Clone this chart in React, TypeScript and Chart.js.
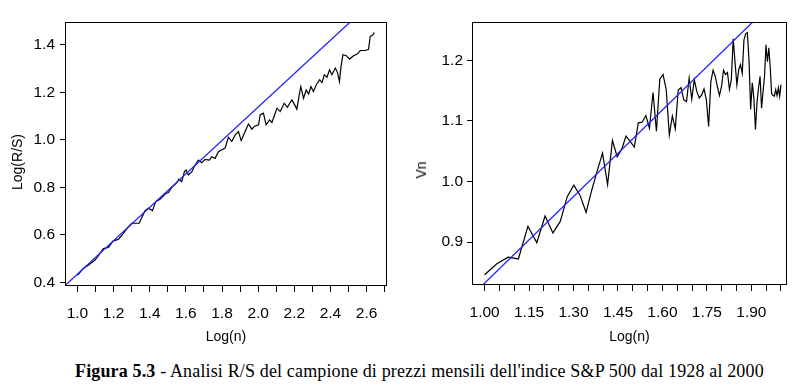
import React, { useEffect, useRef } from 'react';
import { Chart, registerables } from 'chart.js';

Chart.register(...registerables);

// ---------- Left panel: R/S analysis (log-log) ----------
const leftLogN = [
  1.0, 1.032, 1.06, 1.097, 1.115, 1.143, 1.171, 1.198, 1.226, 1.254, 1.281, 1.3, 1.341, 1.374, 1.392,
  1.415, 1.433, 1.457, 1.485, 1.503, 1.522, 1.55, 1.562, 1.577, 1.592, 1.601, 1.614, 1.633, 1.651,
  1.669, 1.688, 1.706, 1.73, 1.743, 1.762, 1.78, 1.799, 1.817, 1.835, 1.854, 1.873, 1.891, 1.906,
  1.928, 1.946, 1.965, 1.978, 2.002, 2.011, 2.029, 2.044, 2.063, 2.076, 2.104, 2.122, 2.144, 2.162,
  2.177, 2.187, 2.205, 2.214, 2.229, 2.236, 2.251, 2.266, 2.279, 2.292, 2.306, 2.321, 2.34, 2.353,
  2.366, 2.381, 2.395, 2.408, 2.427, 2.439, 2.45, 2.458, 2.469, 2.488, 2.506, 2.528, 2.55, 2.565,
  2.593, 2.611, 2.62, 2.635, 2.643,
];
const leftLogRS = [
  0.43, 0.459, 0.472, 0.494, 0.511, 0.542, 0.547, 0.575, 0.581, 0.606, 0.634, 0.649, 0.649, 0.702, 0.712,
  0.702, 0.74, 0.75, 0.772, 0.778, 0.8, 0.82, 0.834, 0.824, 0.866, 0.873, 0.852, 0.866, 0.894,
  0.915, 0.904, 0.918, 0.915, 0.929, 0.922, 0.95, 0.958, 0.965, 1.011, 0.993, 1.021, 1.035, 0.997,
  1.035, 1.067, 1.045, 1.056, 1.063, 1.105, 1.112, 1.063, 1.084, 1.073, 1.133, 1.119, 1.154, 1.137,
  1.157, 1.168, 1.143, 1.129, 1.196, 1.224, 1.175, 1.21, 1.193, 1.224, 1.203, 1.231, 1.253, 1.241,
  1.274, 1.264, 1.295, 1.274, 1.302, 1.283, 1.245, 1.306, 1.358, 1.354, 1.34, 1.354, 1.362, 1.376,
  1.376, 1.381, 1.435, 1.442, 1.452,
];
const leftFitCoef = [-0.268, 0.703]; // intercept, slope
const leftXRange = [0.931, 2.713];
const leftYRange = [0.389, 1.496];
const leftXLabelValues = [1.0, 1.2, 1.4, 1.6, 1.8, 2.0, 2.2, 2.4, 2.6];

// ---------- Right panel: V statistic ----------
const rightN = [
  10, 11, 12, 13, 14, 15, 16, 17, 18, 19, 20, 21, 22, 23, 24, 25, 26, 27, 28, 29, 30, 31, 32, 33, 34,
  35, 36, 37, 38, 39, 40, 41, 42, 43, 44, 45, 46, 47, 48, 49, 50, 51, 52, 53, 54, 55, 56, 57, 58, 59,
  60, 61, 62, 63, 64, 65, 66, 67, 68, 69, 70, 71, 72, 73, 74, 75, 76, 77, 78, 79, 80, 81, 82, 83, 84,
  85, 86, 87, 88, 89, 90, 91, 92, 93, 94, 95, 96, 97, 98, 99, 100,
];
const rightVn = [
  0.846, 0.864, 0.875, 0.872, 0.926, 0.899, 0.943, 0.915, 0.934, 0.975, 0.994, 0.977, 0.949, 0.986, 1.018,
  1.047, 0.995, 1.068, 1.041, 1.053, 1.075, 1.066, 1.057, 1.097, 1.098, 1.109, 1.088, 1.147, 1.083, 1.169,
  1.177, 1.152, 1.077, 1.108, 1.087, 1.151, 1.155, 1.135, 1.132, 1.171, 1.136, 1.168, 1.149, 1.138, 1.143,
  1.153, 1.135, 1.091, 1.165, 1.184, 1.174, 1.157, 1.142, 1.157, 1.184, 1.177, 1.18, 1.152, 1.169, 1.236,
  1.196, 1.16, 1.185, 1.193, 1.179, 1.234, 1.244, 1.246, 1.201, 1.119, 1.163, 1.138, 1.086, 1.13, 1.155,
  1.174, 1.121, 1.149, 1.174, 1.226, 1.198, 1.221, 1.188, 1.145, 1.142, 1.141, 1.152, 1.142, 1.155, 1.141,
  1.16,
];
const rightFitCoef = [0.355, 0.477]; // intercept, slope
const rightXRange = [0.9575, 2.0203];
const rightYRange = [0.8306, 1.2636];
const rightXLabelValues = [1.0, 1.15, 1.3, 1.45, 1.6, 1.75, 1.9];

const SANS = "'Liberation Sans', Arial, sans-serif";

const boxPlugin = {
  id: 'plotBox',
  afterDraw(chart: any) {
    const { ctx, chartArea: a } = chart;
    ctx.save();
    ctx.strokeStyle = '#000';
    ctx.lineWidth = 1;
    ctx.strokeRect(a.left + 0.5, a.top + 0.5, a.right - a.left - 1, a.bottom - a.top);
    ctx.restore();
  },
};

type PanelOpts = {
  xs: number[];
  ys: number[];
  fit: number[];
  xRange: number[];
  yRange: number[];
  xStep: number;
  yStep: number;
  xLabelValues: number[];
  xDecimals: number;
  yAxisWidth: number;
  xAxisHeight: number;
  padRight: number;
  yTickPad: number;
  xTitle: string;
};

function buildConfig(p: PanelOpts): any {
  const series = p.xs.map((x, i) => ({ x, y: p.ys[i] }));
  const fitLine = p.xRange.map((x) => ({ x, y: p.fit[0] + p.fit[1] * x }));
  return {
    type: 'line',
    data: {
      datasets: [
        { data: fitLine, borderColor: '#2222ff', borderWidth: 1.3, pointRadius: 0, tension: 0, fill: false, order: 0 },
        { data: series, borderColor: '#000000', borderWidth: 1.2, pointRadius: 0, tension: 0, fill: false, order: 1 },
      ],
    },
    options: {
      responsive: false,
      animation: false,
      events: [],
      layout: { padding: { top: 22, right: p.padRight, left: 0, bottom: 0 } },
      plugins: { legend: { display: false }, tooltip: { enabled: false } },
      scales: {
        x: {
          type: 'linear',
          min: p.xRange[0],
          max: p.xRange[1],
          afterFit: (s: any) => {
            s.height = p.xAxisHeight;
          },
          border: { display: false },
          grid: { drawOnChartArea: false, drawTicks: true, tickLength: 7, color: '#000', lineWidth: 1 },
          ticks: {
            stepSize: p.xStep,
            includeBounds: false,
            autoSkip: false,
            maxRotation: 0,
            minRotation: 0,
            padding: 12,
            color: '#000',
            font: { family: SANS, size: 15.5 },
            callback: (v: any) => {
              const n = Number(v);
              return p.xLabelValues.some((l) => Math.abs(l - n) < 1e-6) ? n.toFixed(p.xDecimals) : '';
            },
          },
          title: {
            display: true,
            text: p.xTitle,
            color: '#000',
            font: { family: SANS, size: 14 },
            padding: { top: 0, bottom: 4 },
          },
        },
        y: {
          type: 'linear',
          min: p.yRange[0],
          max: p.yRange[1],
          afterFit: (s: any) => {
            s.width = p.yAxisWidth;
          },
          border: { display: false },
          grid: { drawOnChartArea: false, drawTicks: true, tickLength: 5, color: '#000', lineWidth: 1 },
          ticks: {
            stepSize: p.yStep,
            includeBounds: false,
            padding: p.yTickPad,
            color: '#000',
            font: { family: SANS, size: 15.5 },
            callback: (v: any) => Number(v).toFixed(1),
          },
        },
      },
    },
    plugins: [boxPlugin],
  };
}

function Panel({ left, opts }: { left: number; opts: PanelOpts }) {
  const ref = useRef<HTMLCanvasElement>(null);
  useEffect(() => {
    const chart = new Chart(ref.current as HTMLCanvasElement, buildConfig(opts));
    return () => chart.destroy();
  }, []);
  return (
    <canvas
      ref={ref}
      width={400}
      height={350}
      style={{ position: 'absolute', left, top: 0, width: 400, height: 350 }}
    />
  );
}

function YTitle({ text, cx, cy }: { text: string; cx: number; cy: number }) {
  return (
    <span
      style={{
        position: 'absolute',
        left: cx,
        top: cy,
        transform: 'translate(-50%, -50%) rotate(-90deg)',
        fontFamily: SANS,
        fontSize: 14,
        lineHeight: '16px',
        color: '#000',
        whiteSpace: 'nowrap',
      }}
    >
      {text}
    </span>
  );
}

export default function App() {
  const leftOpts: PanelOpts = {
    xs: leftLogN,
    ys: leftLogRS,
    fit: leftFitCoef,
    xRange: leftXRange,
    yRange: leftYRange,
    xStep: 0.1,
    yStep: 0.2,
    xLabelValues: leftXLabelValues,
    xDecimals: 1,
    yAxisWidth: 65,
    xAxisHeight: 65,
    padRight: 13,
    yTickPad: 5,
    xTitle: 'Log(n)',
  };
  const rightOpts: PanelOpts = {
    xs: rightN.map((n) => Math.log10(n)),
    ys: rightVn,
    fit: rightFitCoef,
    xRange: rightXRange,
    yRange: rightYRange,
    xStep: 0.05,
    yStep: 0.1,
    xLabelValues: rightXLabelValues,
    xDecimals: 2,
    yAxisWidth: 72,
    xAxisHeight: 66,
    padRight: 13,
    yTickPad: 4,
    xTitle: 'Log(n)',
  };
  return (
    <div
      style={{
        position: 'absolute',
        left: 0,
        top: 0,
        width: 800,
        height: 387,
        background: '#fff',
        overflow: 'hidden',
      }}
    >
      <Panel left={0} opts={leftOpts} />
      <Panel left={400} opts={rightOpts} />
      <YTitle text="Log(R/S)" cx={17} cy={162} />
      <YTitle text="Vn" cx={421} cy={170} />
      <div
        style={{
          position: 'absolute',
          left: 75,
          top: 362,
          fontFamily: "'Liberation Serif', 'Times New Roman', serif",
          fontSize: 18,
          letterSpacing: '0.15px',
          lineHeight: '19px',
          color: '#000',
          whiteSpace: 'nowrap',
        }}
      >
        <b>Figura 5.3</b> - Analisi R/S del campione di prezzi mensili dell'indice S&amp;P 500 dal 1928 al 2000
      </div>
    </div>
  );
}
